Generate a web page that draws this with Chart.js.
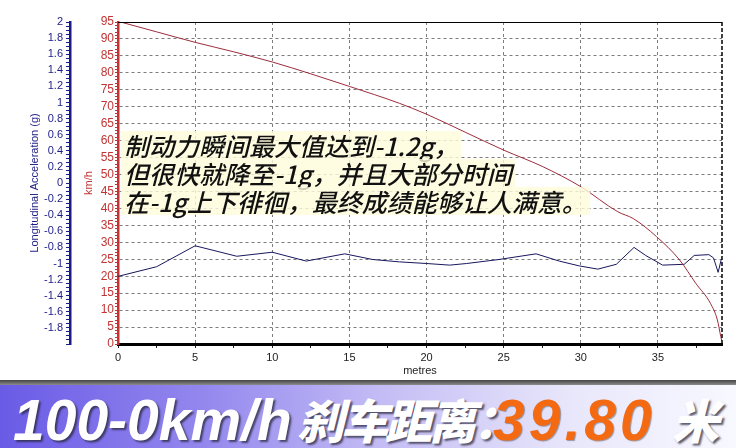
<!DOCTYPE html>
<html>
<head>
<meta charset="utf-8">
<script src="https://cdn.jsdelivr.net/npm/chart.js@4/dist/chart.umd.min.js"></script>
<style>
    html, body { margin: 0; padding: 0; background: #fff; }
    #wrap { position: relative; width: 736px; height: 448px; overflow: hidden; background: #fff; }
    #chartBox { position: absolute; left: 0; top: 0; width: 736px; height: 380px; }
    #note {
        position: absolute; left: 121px; top: 131px;
        font: italic 500 25px/28px "Noto Sans CJK SC", sans-serif; color: #111;
    }
    #note div { height: 28px; }
    #note span {
        display: inline-block; height: 28px; line-height: 28px;
        background: rgba(255, 252, 218, 0.8); padding: 0 3px;
    }
    #banner {
        position: absolute; left: 0; top: 380px; width: 736px; height: 68px;
        background:
            linear-gradient(180deg, #444 0px, #8c8c8c 5px, rgba(0,0,0,0) 5px),
            linear-gradient(90deg, #6a5be6 0%, #9488ee 28%, #c4bdf5 52%, #e9e7fb 78%, #f8f8ff 100%);
    }
    .bt {
        position: absolute; white-space: nowrap; line-height: 1;
        font-style: italic; font-weight: bold; color: #fff;
        text-shadow: 2px 2px 2px rgba(40, 40, 60, 0.75);
    }
    .lat { font-family: "Liberation Sans", Arial, sans-serif; font-size: 57px; top: 12px; }
    .cjk { font-family: "Noto Sans CJK SC", sans-serif; font-weight: 900; font-size: 47px; top: 15px; letter-spacing: -3px; }
    .num { color: #f36a12; letter-spacing: 4px; text-shadow: 1px 1px 1px rgba(0, 0, 0, 0.35); }
</style>
</head>
<body>
<div id="wrap">
    <div id="chartBox"><canvas id="brakeChart"></canvas></div>
    <div id="note">
        <div><span>制动力瞬间最大值达到-1.2g，</span></div>
        <div><span>但很快就降至-1g，并且大部分时间</span></div>
        <div><span>在-1g上下徘徊，最终成绩能够让人满意。</span></div>
    </div>
    <div id="banner">
        <span class="bt lat" style="left:13px">100-0km/h</span>
        <span class="bt cjk" style="left:297px">刹车距离：</span>
        <span class="bt lat num" style="left:493px">39.80</span>
        <span class="bt cjk" style="left:672px">米</span>
    </div>
</div>
<script>
// ============================================
// Data
// ============================================
const speedDistance = [0, 2.5, 5, 7.5, 10, 12.5, 15, 18.25, 20, 22.5, 25, 27.5, 30, 32.4, 33.4, 34.9, 36.4, 37.45, 38.4, 38.85, 39.07, 39.13];
const speedValues   = [95.2, 92.1, 89.0, 86.2, 83.2, 79.7, 76.0, 71.0, 67.8, 62.5, 57.2, 52.4, 46.4, 39.0, 37.0, 31.7, 24.8, 17.9, 12.0, 7.1, 2.2, 1.0];

const accelDistance = [0, 2.5, 5.0, 7.7, 10, 12.2, 14.7, 16.5, 18.25, 20, 21.5, 22.6, 24.7, 27.1, 28.6, 29.9, 31.1, 32.3, 33.45, 34.2, 35.3, 36.7, 37.35, 38.3, 38.6, 38.9, 39.1];
const accelValues   = [-1.16, -1.04, -0.78, -0.91, -0.86, -0.97, -0.88, -0.95, -0.98, -1.0, -1.02, -1.0, -0.95, -0.88, -0.97, -1.03, -1.07, -1.01, -0.80, -0.90, -1.02, -1.01, -0.90, -0.89, -0.93, -1.11, -0.95];

const distanceMax = 39.15;
const speedMax = 95;
const accelRange = [-2, 2];

const RED = '#c23434';
const NAVY = '#1c1c86';
const CLEAR = 'rgba(0,0,0,0)';

function toPoints(xs, ys) {
    return xs.map((x, i) => ({ x: x, y: ys[i] }));
}

function isMultiple(v, step) {
    const r = v / step;
    return Math.abs(r - Math.round(r)) < 1e-6;
}

// ============================================
// Plot frame: solid top edge, dashed right edge
// ============================================
const frameLines = {
    id: 'frameLines',
    afterDatasetsDraw(chart) {
        const { ctx, chartArea: a } = chart;
        ctx.save();
        ctx.strokeStyle = '#000';
        ctx.lineWidth = 1;
        ctx.beginPath();
        ctx.moveTo(a.left, a.top + 0.5);
        ctx.lineTo(a.right, a.top + 0.5);
        ctx.stroke();
        ctx.lineWidth = 1.5;
        ctx.setLineDash([4, 2]);
        ctx.beginPath();
        ctx.moveTo(a.right, a.top);
        ctx.lineTo(a.right, a.bottom);
        ctx.stroke();
        ctx.restore();
    }
};

Chart.defaults.font.family = '"Liberation Sans", Arial, sans-serif';

new Chart(document.getElementById('brakeChart'), {
    type: 'line',
    data: {
        datasets: [{
            label: 'km/h',
            data: toPoints(speedDistance, speedValues),
            yAxisID: 'y',
            borderColor: '#9c2c3c',
            borderWidth: 1,
            pointRadius: 0,
            cubicInterpolationMode: 'monotone'
        }, {
            label: 'Longitudinal Acceleration (g)',
            data: toPoints(accelDistance, accelValues),
            yAxisID: 'y2',
            borderColor: '#17175e',
            borderWidth: 1,
            pointRadius: 0,
            tension: 0
        }]
    },
    options: {
        responsive: true,
        maintainAspectRatio: false,
        animation: false,
        layout: { padding: { left: 0, top: 22, right: 14, bottom: 0 } },
        plugins: { legend: { display: false }, tooltip: { enabled: false } },
        scales: {
            x: {
                type: 'linear',
                min: 0,
                max: distanceMax,
                bounds: 'data',
                afterFit: (s) => { s.height = 36; },
                ticks: {
                    stepSize: 2.5,
                    includeBounds: false,
                    autoSkip: false,
                    maxRotation: 0,
                    padding: 3,
                    color: '#222',
                    font: { size: 11 },
                    callback: (v) => isMultiple(v, 5) ? String(v) : ''
                },
                grid: {
                    color: (c) => (c.tick && isMultiple(c.tick.value, 5) && c.tick.value > 0) ? '#7c7c7c' : CLEAR,
                    tickColor: '#222',
                    tickLength: 4,
                    lineWidth: 1
                },
                border: { color: '#000', width: 3, dash: [3, 3] },
                title: { display: true, text: 'metres', color: '#222', font: { size: 11 }, padding: { top: 0, bottom: 2 } }
            },
            y: {
                position: 'left',
                weight: 1,
                min: 0,
                max: speedMax,
                bounds: 'data',
                afterFit: (s) => { s.width = 48; },
                ticks: {
                    stepSize: 1,
                    autoSkip: false,
                    padding: 1,
                    color: RED,
                    font: { size: 12 },
                    callback: (v) => isMultiple(v, 5) ? String(v) : ''
                },
                grid: {
                    color: (c) => (c.tick && isMultiple(c.tick.value, 5) && c.tick.value > 0 && c.tick.value < speedMax) ? '#7c7c7c' : CLEAR,
                    tickColor: RED,
                    tickLength: 3,
                    lineWidth: 1
                },
                border: { color: RED, width: 2.5, dash: [3, 3] },
                title: { display: true, text: 'km/h', color: RED, font: { size: 11 }, padding: { top: 12, bottom: 0 } }
            },
            y2: {
                position: 'left',
                weight: 2,
                min: accelRange[0],
                max: accelRange[1],
                bounds: 'data',
                afterFit: (s) => { s.width = 70; },
                ticks: {
                    stepSize: 0.05,
                    autoSkip: false,
                    padding: 3,
                    color: NAVY,
                    font: { size: 11 },
                    callback: (v) => {
                        const k = Math.round(v * 100);
                        return (k % 20 === 0 && k !== -200) ? String(k / 100) : '';
                    }
                },
                grid: {
                    drawOnChartArea: false,
                    color: NAVY,
                    tickColor: NAVY,
                    tickLength: 4,
                    lineWidth: 1
                },
                border: { color: NAVY, width: 2.5 },
                title: { display: true, text: 'Longitudinal Acceleration (g)', color: NAVY, font: { size: 11 }, padding: { top: 28, bottom: 0 } }
            }
        }
    },
    plugins: [frameLines]
});
</script>
</body>
</html>
